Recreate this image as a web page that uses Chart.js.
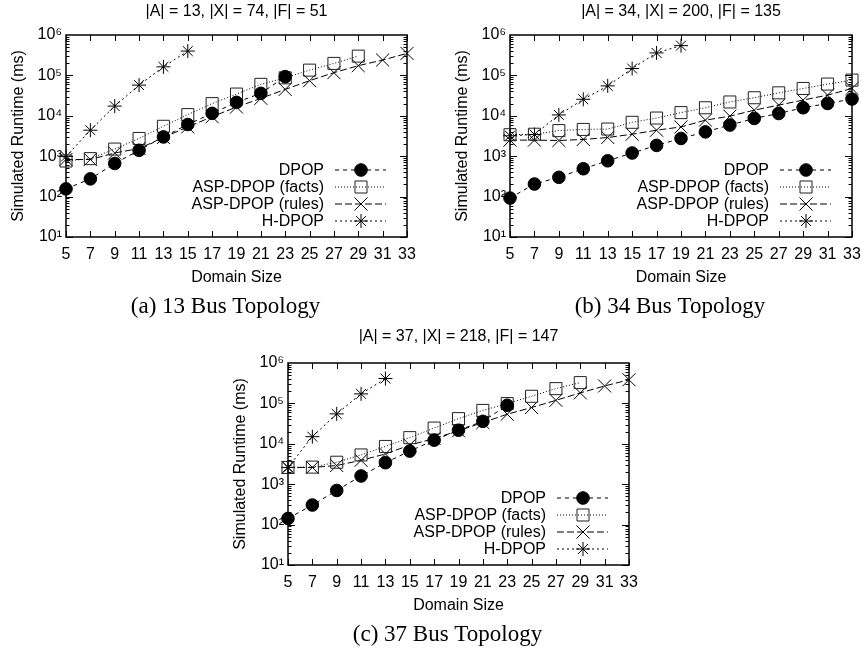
<!DOCTYPE html>
<html>
<head>
<meta charset="utf-8">
<script src="https://cdn.jsdelivr.net/npm/chart.js@4.4.1/dist/chart.umd.min.js"></script>
<style>
  body { margin: 0; background: #fff; width: 865px; height: 651px; position: relative; overflow: hidden; }
  .panel { position: absolute; }
</style>
</head>
<body>
<div class="panel" style="left:0px;top:0px;width:451px;height:322px"><canvas id="chart-a"></canvas></div>
<div class="panel" style="left:444px;top:0px;width:452px;height:322px"><canvas id="chart-b"></canvas></div>
<div class="panel" style="left:222px;top:325px;width:451px;height:325px"><canvas id="chart-c"></canvas></div>
<script>
// x values shared by every panel
const domainSizes = [5, 7, 9, 11, 13, 15, 17, 19, 21, 23, 25, 27, 29, 31, 33];
const yTickValues = [10, 100, 1000, 10000, 100000, 1000000];
const yTickLabels = ['10¹', '10²', '10³', '10⁴', '10⁵', '10⁶'];
const seriesNames = ['DPOP', 'ASP-DPOP (facts)', 'ASP-DPOP (rules)', 'H-DPOP'];

// (a) 13 bus
const dpopA = [155, 275, 660, 1400, 3000, 6100, 11500, 21500, 36000, 93000];
const aspFactsA = [760, 870, 1500, 2750, 5500, 10700, 20000, 34500, 60000, 87000, 135000, 198000, 300000];
const aspRulesA = [830, 830, 1200, 1550, 2900, 5300, 9500, 16500, 27000, 45000, 74000, 117000, 174000, 240000, 350000];
const hdpopA = [980, 4400, 17400, 57500, 163000, 400000];

// (b) 34 bus
const dpopB = [92, 205, 300, 490, 770, 1200, 1850, 2750, 4000, 5900, 8600, 11400, 15800, 20200, 26000];
const aspFactsB = [3400, 3500, 4300, 4600, 4700, 6900, 8800, 12000, 15800, 22000, 28000, 37000, 47500, 61000, 76500];
const aspRulesB = [2500, 2500, 2450, 2600, 2900, 3500, 4400, 5300, 7800, 9800, 13800, 18400, 24500, 32500, 47500];
const hdpopB = [3200, 3450, 10500, 25600, 55000, 148000, 360000, 545000];

// (c) 37 bus
const dpopC = [142, 305, 700, 1600, 3400, 6600, 12300, 21700, 36000, 90000];
const aspFactsC = [2600, 2650, 3500, 5300, 8600, 14200, 24500, 42000, 67000, 99000, 150000, 232000, 327000];
const aspRulesC = [2600, 2600, 2900, 3900, 5600, 9300, 13500, 21000, 33500, 54000, 79000, 119000, 182000, 270000, 385000];
const hdpopC = [2600, 15000, 55000, 172000, 412000];

const SANS = '"Liberation Sans", Arial, Helvetica, sans-serif';
const SERIF = '"Liberation Serif", "Times New Roman", serif';

// gnuplot-ish look for each series
const styles = [
  { dash: [4, 4], point: 'circle', radius: 6.3, fill: '#000' },
  { dash: [1, 2], point: 'rect', radius: 8.5, fill: 'rgba(0,0,0,0)' },
  { dash: [7, 3], point: 'crossRot', radius: 9.2, fill: 'rgba(0,0,0,0)' },
  { dash: [2, 3], point: 'star', radius: 7, fill: 'rgba(0,0,0,0)' }
];

function marker(ctx, style, r, x, y) {
  ctx.beginPath();
  if (style === 'circle') {
    ctx.arc(x, y, r, 0, Math.PI * 2);
    ctx.fill();
    ctx.stroke();
    return;
  }
  if (style === 'rect') {
    const s = r * Math.SQRT1_2;
    ctx.rect(x - s, y - s, 2 * s, 2 * s);
  } else {
    const d = r * Math.SQRT1_2;
    ctx.moveTo(x - d, y - d); ctx.lineTo(x + d, y + d);
    ctx.moveTo(x + d, y - d); ctx.lineTo(x - d, y + d);
    if (style === 'star') {
      ctx.moveTo(x - r, y); ctx.lineTo(x + r, y);
      ctx.moveTo(x, y - r); ctx.lineTo(x, y + r);
    }
  }
  ctx.stroke();
}

// legend drawn inside the plot, text left of the sample
const insideLegend = {
  id: 'insideLegend',
  afterDatasetsDraw(chart) {
    const { ctx, chartArea } = chart;
    const right = chartArea.right;
    ctx.save();
    ctx.font = '16px ' + SANS;
    ctx.textAlign = 'right';
    ctx.textBaseline = 'middle';
    chart.data.datasets.forEach((ds, i) => {
      const st = styles[i];
      const y = chartArea.bottom - 67 + 17 * i;
      ctx.fillStyle = '#000';
      ctx.fillText(ds.label, right - 83, y + 1);
      ctx.strokeStyle = '#000';
      ctx.lineWidth = 1;
      ctx.setLineDash(st.dash);
      ctx.beginPath();
      ctx.moveTo(right - 72, y);
      ctx.lineTo(right - 21, y);
      ctx.stroke();
      ctx.setLineDash([]);
      ctx.fillStyle = st.fill;
      ctx.strokeStyle = i === 1 ? '#222' : '#000';
      marker(ctx, st.point, st.radius, right - 46, y);
    });
    ctx.restore();
  }
};

// box border with inward ticks on all four sides
const gnuplotFrame = {
  id: 'gnuplotFrame',
  beforeDatasetsDraw(chart) {
    const { ctx, chartArea: a, scales } = chart;
    const line = (x1, y1, x2, y2) => { ctx.moveTo(x1, y1); ctx.lineTo(x2, y2); };
    ctx.save();
    ctx.strokeStyle = '#000';
    ctx.lineWidth = 1;
    ctx.beginPath();
    domainSizes.forEach(v => {
      const px = Math.round(scales.x.getPixelForValue(v)) + 0.5;
      line(px, a.bottom, px, a.bottom - 6);
      line(px, a.top, px, a.top + 6);
    });
    for (let e = 1; e < 6; e++) {
      for (let m = 1; m < 10; m++) {
        const py = Math.round(scales.y.getPixelForValue(m * Math.pow(10, e))) + 0.5;
        const len = m === 1 ? 7 : 3.5;
        line(a.left, py, a.left + len, py);
        line(a.right, py, a.right - len, py);
      }
    }
    ctx.stroke();
    ctx.lineWidth = 1.5;
    ctx.strokeRect(a.left, a.top, a.right - a.left, a.bottom - a.top);
    ctx.restore();
  }
};

function makePanel(canvasId, header, caption, series, topGap) {
  const datasets = series.map((vals, i) => {
    const st = styles[i];
    return {
      label: seriesNames[i],
      data: vals.map((v, k) => ({ x: domainSizes[k], y: v })),
      borderColor: '#000',
      borderWidth: 1,
      borderDash: st.dash,
      pointStyle: st.point,
      pointRadius: st.radius,
      pointBackgroundColor: st.fill,
      pointBorderColor: i === 1 ? '#222' : '#000',
      pointBorderWidth: 1,
      tension: 0,
      clip: false
    };
  });

  new Chart(document.getElementById(canvasId), {
    type: 'line',
    data: { datasets },
    options: {
      responsive: true,
      maintainAspectRatio: false,
      animation: false,
      events: [],
      layout: { padding: 0 },
      plugins: {
        legend: { display: false },
        tooltip: { enabled: false },
        title: { display: false },
        subtitle: {
          display: true, position: 'bottom', text: caption, color: '#000',
          font: { family: SERIF, size: 23, weight: 'normal' },
          padding: { top: 6, bottom: 1 }
        }
      },
      scales: {
        x: {
          type: 'linear', min: 5, max: 33,
          afterBuildTicks: s => { s.ticks = domainSizes.map(v => ({ value: v })); },
          afterFit: s => { s.height = 50.4; },
          grid: { display: false, drawTicks: false },
          border: { display: false },
          ticks: { color: '#000', padding: 8, autoSkip: false, maxRotation: 0,
                   font: { family: SANS, size: 16 } },
          title: { display: true, text: 'Domain Size', color: '#000',
                   font: { family: SANS, size: 16 }, padding: { top: 4, bottom: 0 } }
        },
        // header line sits on an empty top axis so it is centred over the plot
        top: {
          type: 'linear', position: 'top', min: 5, max: 33,
          afterFit: s => { s.height = topGap; },
          grid: { display: false, drawTicks: false },
          border: { display: false },
          ticks: { display: false },
          title: { display: true, text: header, color: '#000',
                   font: { family: SANS, size: 16 }, padding: { top: 2.4, bottom: 0 } }
        },
        y: {
          type: 'logarithmic', min: 10, max: 1000000,
          afterBuildTicks: s => { s.ticks = yTickValues.map(v => ({ value: v })); },
          afterFit: s => { s.width = 66; },
          grid: { display: false, drawTicks: false },
          border: { display: false },
          ticks: { color: '#000', padding: 4, autoSkip: false,
                   font: { family: SANS, size: 16 },
                   callback: (v, i) => yTickLabels[i] },
          title: { display: true, text: 'Simulated Runtime (ms)', color: '#000',
                   font: { family: SANS, size: 16 }, padding: { top: 9.4, bottom: 0 } }
        },
        // empty right strip: keeps the caption a bit left of the plot centre, as in the figure
        spare: {
          type: 'linear', position: 'right',
          afterFit: s => { s.width = 44; },
          grid: { display: false, drawTicks: false },
          border: { display: false },
          ticks: { display: false }
        }
      }
    },
    plugins: [gnuplotFrame, insideLegend]
  });
}

makePanel('chart-a', '|A| = 13, |X| = 74, |F| = 51', '(a) 13 Bus Topology', [dpopA, aspFactsA, aspRulesA, hdpopA], 35);
makePanel('chart-b', '|A| = 34, |X| = 200, |F| = 135', '(b) 34 Bus Topology', [dpopB, aspFactsB, aspRulesB, hdpopB], 35);
makePanel('chart-c', '|A| = 37, |X| = 218, |F| = 147', '(c) 37 Bus Topology', [dpopC, aspFactsC, aspRulesC, hdpopC], 38);
</script>
</body>
</html>
